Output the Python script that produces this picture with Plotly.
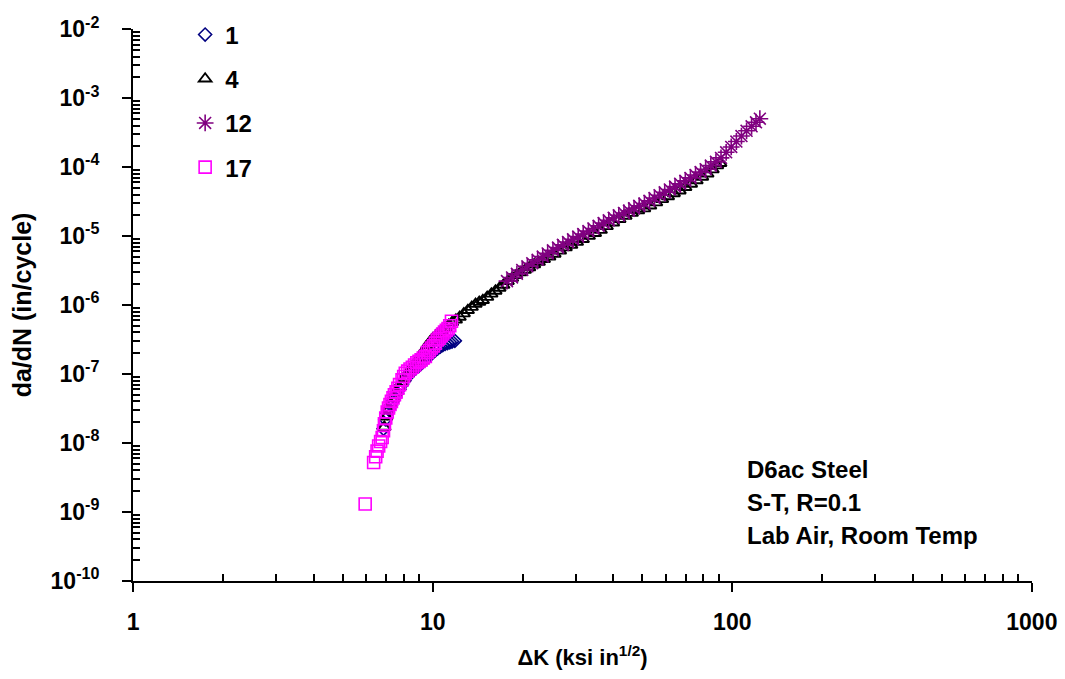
import plotly.graph_objects as go

# ---- data ----
k_s1 = [6.85, 6.95, 7.05, 7.15, 7.25, 7.35, 7.45, 7.6, 7.75, 7.9, 8.05, 8.2, 8.4, 8.6, 8.8,
        9.0, 9.2, 9.4, 9.6, 9.8, 10.0, 10.2, 10.4, 10.6, 10.8, 11.0, 11.2, 11.4, 11.6, 11.85]
da_s1 = [1.6e-8, 2.2e-8, 2.7e-8, 3.1e-8, 3.5e-8, 4.0e-8, 4.5e-8, 5.2e-8, 6.0e-8, 7.0e-8,
         8.0e-8, 9.0e-8, 1.02e-7, 1.12e-7, 1.22e-7, 1.32e-7, 1.45e-7, 1.58e-7, 1.72e-7, 1.88e-7,
         2.05e-7, 2.2e-7, 2.35e-7, 2.5e-7, 2.62e-7, 2.72e-7, 2.8e-7, 2.88e-7, 2.95e-7, 3.02e-7]

k_s4 = [6.9, 7.0, 7.1, 7.25, 7.4, 7.55, 7.7, 7.85, 8.0, 8.2, 8.4, 8.6, 8.8, 9.0, 9.2, 9.4, 9.6,
        9.8, 10.0, 10.25, 10.5, 10.75, 11.0, 11.3, 11.6, 11.95, 12.3, 12.7, 13.1, 13.5, 13.9,
        14.3, 14.7, 15.2, 15.7, 16.2, 16.7, 17.2, 17.8, 18.4, 19.0, 19.6, 20.3, 21.0, 21.8,
        22.6, 23.5, 24.5, 25.5, 26.6, 27.8, 29.0, 30.3, 31.7, 33.2, 34.8, 36.4, 38.1, 40.0,
        42.0, 44.0, 46.2, 48.5, 50.8, 53.2, 55.7, 58.3, 61.0, 63.8, 66.7, 69.7, 72.8, 76.0,
        79.3, 82.6, 86.0, 89.0, 91.2]
da_s4 = [1.7e-8, 2.4e-8, 3.0e-8, 3.7e-8, 4.5e-8, 5.4e-8, 6.4e-8, 7.5e-8, 8.6e-8, 1.0e-7,
         1.15e-7, 1.32e-7, 1.5e-7, 1.72e-7, 1.98e-7, 2.25e-7, 2.6e-7, 2.95e-7, 3.25e-7, 3.6e-7,
         3.95e-7, 4.3e-7, 4.65e-7, 5.1e-7, 5.6e-7, 6.1e-7, 6.7e-7, 7.5e-7, 8.4e-7, 9.3e-7,
         1.03e-6, 1.1e-6, 1.17e-6, 1.3e-6, 1.45e-6, 1.6e-6, 1.76e-6, 1.95e-6, 2.2e-6, 2.45e-6,
         2.7e-6, 2.95e-6, 3.2e-6, 3.5e-6, 3.85e-6, 4.2e-6, 4.6e-6, 5.0e-6, 5.5e-6, 6.1e-6,
         6.8e-6, 7.4e-6, 8.2e-6, 9.0e-6, 1.0e-5, 1.1e-5, 1.22e-5, 1.38e-5, 1.56e-5, 1.75e-5,
         1.95e-5, 2.15e-5, 2.35e-5, 2.5e-5, 2.75e-5, 3.05e-5, 3.4e-5, 3.75e-5, 4.15e-5, 4.55e-5,
         5.1e-5, 5.7e-5, 6.4e-5, 7.2e-5, 8.0e-5, 9.2e-5, 1.05e-4, 1.14e-4]

k_s12 = [17.7, 18.4, 19.1, 19.9, 20.7, 21.5, 22.4, 23.3, 24.2, 25.2, 26.2, 27.2, 28.3, 29.4,
         30.6, 31.8, 33.1, 34.4, 35.8, 37.2, 38.7, 40.2, 41.8, 43.5, 45.2, 47.0, 48.9, 50.9,
         52.9, 55.0, 57.2, 59.5, 61.9, 64.4, 67.0, 69.7, 72.5, 75.4, 78.4, 81.5, 84.8, 88.2,
         91.7, 95.4, 99.2, 103.2, 107.3, 111.6, 116.0, 120.0, 123.6]
da_s12 = [2.22e-6, 2.51e-6, 2.83e-6, 3.22e-6, 3.64e-6, 4.04e-6, 4.52e-6, 5.04e-6, 5.6e-6,
          6.21e-6, 6.82e-6, 7.45e-6, 8.18e-6, 8.95e-6, 9.82e-6, 1.07e-5, 1.18e-5, 1.29e-5,
          1.41e-5, 1.54e-5, 1.69e-5, 1.84e-5, 2.0e-5, 2.16e-5, 2.33e-5, 2.52e-5, 2.74e-5,
          2.96e-5, 3.24e-5, 3.56e-5, 3.91e-5, 4.31e-5, 4.74e-5, 5.21e-5, 5.74e-5, 6.32e-5,
          6.97e-5, 7.69e-5, 8.47e-5, 9.33e-5, 1.05e-4, 1.19e-4, 1.36e-4, 1.64e-4, 1.96e-4,
          2.35e-4, 2.82e-4, 3.36e-4, 3.91e-4, 4.47e-4, 5.03e-4]

k_s17 = [5.95, 6.35, 6.45, 6.52, 6.6, 6.7, 6.78, 6.85, 6.9, 6.97, 7.05, 7.12, 7.2, 7.28, 7.37,
         7.45, 7.55, 7.65, 7.75, 7.9, 8.0, 8.1, 8.25, 8.4, 8.55, 8.7, 8.85, 9.0, 9.15, 9.3,
         9.45, 9.6, 9.75, 9.9, 10.05, 10.2, 10.35, 10.5, 10.65, 10.8, 10.95, 11.1, 11.25,
         11.4, 11.55]
da_s17 = [1.3e-9, 5.2e-9, 6.3e-9, 7.6e-9, 9.0e-9, 1.05e-8, 1.2e-8, 1.5e-8, 1.9e-8, 2.3e-8,
          2.8e-8, 3.2e-8, 3.6e-8, 4.0e-8, 4.5e-8, 5.0e-8, 5.5e-8, 6.2e-8, 7.0e-8, 8.2e-8,
          9.2e-8, 1.02e-7, 1.1e-7, 1.18e-7, 1.25e-7, 1.35e-7, 1.45e-7, 1.52e-7, 1.6e-7,
          1.7e-7, 1.8e-7, 2.05e-7, 2.2e-7, 2.38e-7, 2.55e-7, 2.8e-7, 3.1e-7, 3.3e-7, 3.55e-7,
          3.8e-7, 4.05e-7, 4.3e-7, 4.55e-7, 5.0e-7, 5.8e-7]

series_names = ["1", "4", "12", "17"]
x_tick_vals = [1, 10, 100, 1000]
x_tick_text = ["1", "10", "100", "1000"]
y_exponents = [-2, -3, -4, -5, -6, -7, -8, -9, -10]
notes = ["D6ac Steel", "S-T, R=0.1", "Lab Air, Room Temp"]

FONT = "Liberation Sans, Arial, sans-serif"

fig = go.Figure()
styles = [
    dict(symbol="diamond-open", color="#000080", size=10, lw=1.6),
    dict(symbol="triangle-up-open", color="#000000", size=11, lw=1.9),
    dict(symbol="asterisk-open", color="#800080", size=14, lw=1.6),
    dict(symbol="square-open", color="#FF00FF", size=12, lw=1.6),
]
data = [(k_s1, da_s1), (k_s4, da_s4), (k_s12, da_s12), (k_s17, da_s17)]
for name, (xs, ys), st in zip(series_names, data, styles):
    fig.add_trace(go.Scatter(
        x=xs, y=ys, mode="markers", name=name, legendgroup=name,
        marker=dict(symbol=st["symbol"], size=st["size"], color=st["color"],
                    line=dict(color=st["color"], width=st["lw"])),
    ))

y_tick_vals = [10.0 ** e for e in y_exponents]
y_tick_text = ["10<sup>%d</sup>" % e for e in y_exponents]
x_minor = [m * 10 ** e for e in range(0, 3) for m in range(2, 10)]
y_minor = [m * 10.0 ** e for e in range(-10, -2) for m in range(2, 10)]

tickfont = dict(family=FONT, size=23, color="black", weight="bold")
XR = [-0.0005, 3.0005]
YR = [-10.003, -1.997]

fig.update_layout(
    width=1065, height=679,
    paper_bgcolor="white", plot_bgcolor="white",
    margin=dict(l=133, r=33, t=14, b=98),
    showlegend=True,
    legend=dict(x=0.058, y=1.03, xanchor="left", yanchor="top",
                font=dict(family=FONT, size=24, color="black", weight="bold"),
                bgcolor="rgba(0,0,0,0)", traceorder="grouped", tracegroupgap=10,
                itemwidth=30),
    xaxis=dict(type="log", range=XR, tickmode="array", tickvals=x_tick_vals,
               ticktext=x_tick_text, ticks="outside", ticklen=9, tickwidth=2,
               tickcolor="black", showline=True, linecolor="black", linewidth=2,
               showgrid=False, zeroline=False, tickfont=tickfont, ticklabelstandoff=10,
               automargin=False,
               minor=dict(tickmode="array", tickvals=x_minor, ticks="inside",
                          ticklen=7, tickwidth=2, tickcolor="black", showgrid=False),
               title=dict(text="ΔK (ksi in<sup>1/2</sup>)",
                          font=dict(family=FONT, size=22, color="black", weight="bold"),
                          standoff=16)),
    yaxis=dict(type="log", range=YR, tickmode="array", tickvals=y_tick_vals,
               ticktext=y_tick_text, ticks="outside", ticklen=9, tickwidth=2,
               tickcolor="black", showline=True, linecolor="black", linewidth=2,
               showgrid=False, zeroline=False, tickfont=tickfont, ticklabelstandoff=18,
               automargin=False,
               minor=dict(tickmode="array", tickvals=y_minor, ticks="inside",
                          ticklen=7, tickwidth=2, tickcolor="black", showgrid=False),
               title=dict(text="da/dN (in/cycle)",
                          font=dict(family=FONT, size=25, color="black", weight="bold"),
                          standoff=12)),
    xaxis2=dict(type="log", range=XR, overlaying="x", anchor="y", side="bottom",
                tickmode="array", tickvals=x_tick_vals, ticks="inside", ticklen=8,
                tickwidth=2, tickcolor="black", showticklabels=False, showline=False,
                showgrid=False, zeroline=False, automargin=False),
    yaxis2=dict(type="log", range=YR, overlaying="y", anchor="x", side="left",
                tickmode="array", tickvals=y_tick_vals, ticks="inside", ticklen=8,
                tickwidth=2, tickcolor="black", showticklabels=False, showline=False,
                showgrid=False, zeroline=False, automargin=False),
)

for i, txt in enumerate(notes):
    fig.add_annotation(xref="paper", yref="paper", x=(745 - 133) / 899,
                       y=(581 - (466 + 34 * i)) / 567, xanchor="left", yanchor="middle",
                       text=txt, showarrow=False,
                       font=dict(family=FONT, size=24, color="black", weight="bold"))

fig.write_html("out.html", config={"displayModeBar": False},
               post_script="document.body.style.margin='0px';")
